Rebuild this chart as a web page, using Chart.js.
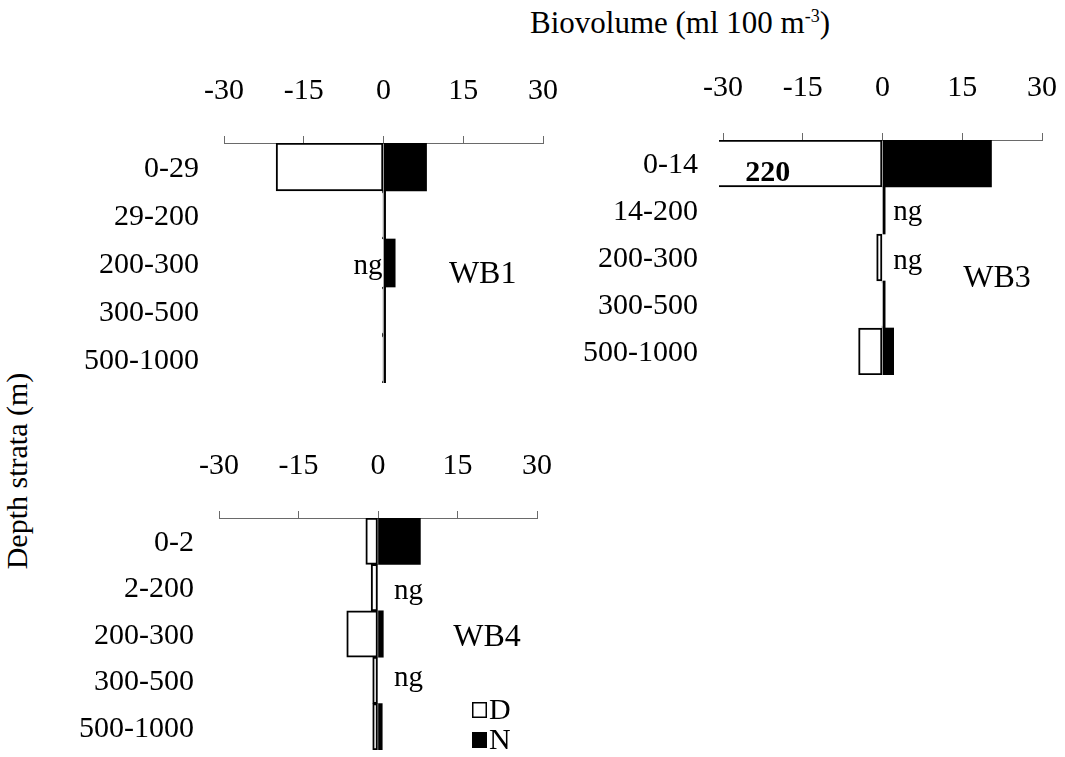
<!DOCTYPE html>
<html>
<head>
<meta charset="utf-8">
<script src="https://cdn.jsdelivr.net/npm/chart.js@4.4.1/dist/chart.umd.min.js"></script>
<style>
  html, body { margin: 0; padding: 0; background: #fff; }
  #page { position: relative; width: 1065px; height: 757px; overflow: hidden; background: #fff; }
  canvas { position: absolute; }
  .title { position: absolute; font-family: "Liberation Serif", "Times New Roman", serif; color: #000; white-space: nowrap; }
  #xTitle { left: 530px; top: 5px; font-size: 31px; line-height: 36px; }
  #xTitle sup { font-size: 18px; position: relative; top: -11px; vertical-align: baseline; }
  #yTitle { left: 17px; top: 471px; font-size: 30px; line-height: 34px; transform: translate(-50%, -50%) rotate(-90deg); }
</style>
</head>
<body>
<div id="page">
  <div class="title" id="xTitle">Biovolume (ml 100 m<sup>-3</sup>)</div>
  <div class="title" id="yTitle">Depth strata (m)</div>
  <canvas id="wb1" width="560" height="345" style="left:0px; top:50px;"></canvas>
  <canvas id="wb3" width="535" height="340" style="left:530px; top:50px;"></canvas>
  <canvas id="wb4" width="560" height="327" style="left:0px; top:430px;"></canvas>
</div>
<script>
// Shared biovolume axis (day values plotted to the left, night to the right)
const biovolumeTicks = [-30, -15, 0, 15, 30];
const seriesNames = ['D', 'N'];

// Station WB1
const wb1Strata = ['0-29', '29-200', '200-300', '300-500', '500-1000'];
const wb1Day = [-20.2, -0.2, null, -0.2, -0.2];
const wb1Night = [8.1, 0.4, 2.2, 0.4, 0.4];

// Station WB3 (surface day value of 220 runs off the axis)
const wb3Strata = ['0-14', '14-200', '200-300', '300-500', '500-1000'];
const wb3Day = [-220, null, -1.1, -0.1, -4.5];
const wb3Night = [20.5, 0.5, null, 0.5, 2.1];

// Station WB4
const wb4Strata = ['0-2', '2-200', '200-300', '300-500', '500-1000'];
const wb4Day = [-2.3, -1.3, -5.9, -1.0, -1.0];
const wb4Night = [8.0, null, 1.0, null, 0.8];

const SERIF = '"Liberation Serif", "Times New Roman", serif';
Chart.defaults.font.family = SERIF;
Chart.defaults.color = '#000';

// Text placed in data coordinates: x is a biovolume value, row is a stratum index
const notesPlugin = {
  id: 'panelNotes',
  afterDatasetsDraw(chart, args, opts) {
    const ctx = chart.ctx;
    const xs = chart.scales.x, ys = chart.scales.y;
    (opts.items || []).forEach(n => {
      ctx.save();
      ctx.fillStyle = '#000';
      ctx.font = (n.bold ? 'bold ' : '') + (n.size || 29) + 'px ' + SERIF;
      ctx.textAlign = n.align || 'left';
      ctx.textBaseline = 'alphabetic';
      const x = xs.getPixelForValue(n.x) + (n.dx || 0);
      const y = ys.getPixelForValue(n.row) + (n.dy || 0);
      ctx.fillText(n.text, x, y);
      ctx.restore();
    });
  }
};

// Small D / N key drawn from the dataset styles
const keyPlugin = {
  id: 'stripKey',
  afterDraw(chart, args, opts) {
    if (!opts.show) return;
    const ctx = chart.ctx;
    const a = chart.chartArea;
    chart.data.datasets.forEach((ds, i) => {
      const bx = a.right + opts.dx;
      const cy = a.bottom + opts.dy + i * 30;
      ctx.save();
      ctx.fillStyle = ds.backgroundColor;
      ctx.fillRect(bx, cy - 8, 15, 16);
      if (ds.borderWidth) {
        ctx.strokeStyle = ds.borderColor;
        ctx.lineWidth = 1.5;
        ctx.strokeRect(bx + 0.75, cy - 7.25, 13.5, 14.5);
      }
      ctx.fillStyle = '#000';
      ctx.font = '30px ' + SERIF;
      ctx.textBaseline = 'middle';
      ctx.textAlign = 'left';
      ctx.fillText(ds.label, bx + 17, cy + 1);
      ctx.restore();
    });
  }
};

function noEdgePadding(s) {
  s.paddingLeft = 0; s.paddingRight = 0; s.paddingTop = 0; s.paddingBottom = 0;
}

function makePanel(id, strata, day, night, geo, notes, showKey) {
  return new Chart(document.getElementById(id), {
    type: 'bar',
    data: {
      labels: strata,
      datasets: [
        { label: seriesNames[0], data: day, backgroundColor: '#fff', borderColor: '#000',
          borderWidth: 2, borderSkipped: false, clip: { left: geo.clipLeft || 0, top: 0, right: 0, bottom: 0 } },
        { label: seriesNames[1], data: night, backgroundColor: '#000', borderColor: '#000',
          borderWidth: 0, clip: 0 }
      ]
    },
    options: {
      responsive: false,
      animation: false,
      devicePixelRatio: 1,
      indexAxis: 'y',
      barPercentage: 1,
      categoryPercentage: 1,
      layout: { padding: { top: 0, left: 0, right: geo.padRight, bottom: geo.padBottom } },
      plugins: {
        legend: { display: false },
        tooltip: { enabled: false },
        panelNotes: { items: notes },
        stripKey: { show: showKey, dx: -65, dy: -40 }
      },
      scales: {
        x: {
          position: 'top',
          stacked: true,
          min: -30, max: 30,
          afterBuildTicks: s => { s.ticks = biovolumeTicks.map(v => ({ value: v })); },
          afterFit: s => { s.height = geo.xHeight; noEdgePadding(s); },
          border: { display: true, color: '#6a6a6a', width: 1 },
          grid: { drawOnChartArea: false, drawTicks: true, tickLength: 7, color: '#6a6a6a', lineWidth: 1 },
          ticks: { font: { size: 30, family: SERIF }, color: '#000', padding: 27, maxRotation: 0, autoSkip: false }
        },
        y: {
          stacked: true,
          afterFit: s => { s.width = geo.yWidth; noEdgePadding(s); },
          border: { display: false },
          grid: { display: false, drawTicks: false },
          ticks: { font: { size: 30, family: SERIF }, color: '#000', padding: 25, labelOffset: 2, autoSkip: false }
        }
      }
    },
    plugins: [notesPlugin, keyPlugin]
  });
}

function build() {
  makePanel('wb1', wb1Strata, wb1Day, wb1Night,
    { xHeight: 93, yWidth: 224, padRight: 17, padBottom: 12 },
    [
      { text: 'ng', x: 0, row: 2, dx: -1, dy: 11, align: 'right' },
      { text: 'WB1', x: 12.3, row: 2, dy: 20, size: 32 }
    ], false);

  makePanel('wb3', wb3Strata, wb3Day, wb3Night,
    { xHeight: 90, yWidth: 193, padRight: 23, padBottom: 15, clipLeft: 4 },
    [
      { text: '220', x: -21.6, row: 0, dy: 17, align: 'center', bold: true, size: 30 },
      { text: 'ng', x: 2, row: 1, dy: 9 },
      { text: 'ng', x: 2, row: 2, dy: 11 },
      { text: 'WB3', x: 15.2, row: 2, dy: 29, size: 32 }
    ], false);

  makePanel('wb4', wb4Strata, wb4Day, wb4Night,
    { xHeight: 88, yWidth: 219, padRight: 23, padBottom: 7 },
    [
      { text: 'ng', x: 3, row: 1, dy: 11 },
      { text: 'WB4', x: 14.2, row: 2, dy: 12, size: 32 },
      { text: 'ng', x: 3, row: 3, dy: 6 }
    ], true);
}

// Make sure the serif face is ready before the canvases draw text
Promise.all([
  document.fonts.load('30px "Liberation Serif"'),
  document.fonts.load('bold 30px "Liberation Serif"')
]).then(build, build);
</script>
</body>
</html>
